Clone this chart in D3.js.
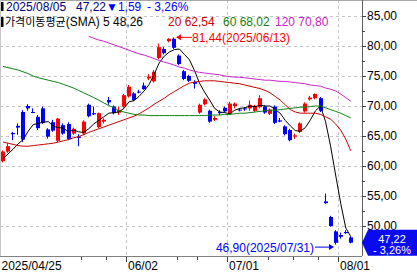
<!DOCTYPE html>
<html>
<head>
<meta charset="utf-8">
<script src="https://cdn.jsdelivr.net/npm/d3@7"></script>
<style>
body { margin: 0; background: #fff; }
svg { display: block; font-family: "Liberation Sans", Arial, sans-serif; font-size: 12px; }
</style>
</head>
<body>
<svg id="chart" width="417" height="274"></svg>
<script>
// trading days on screen (2025, MM/DD)
const dates = ['04/25','04/28','04/29','04/30','05/01','05/02','05/05','05/06','05/07','05/08',
  '05/09','05/12','05/13','05/14','05/15','05/16','05/19','05/20','05/21','05/22',
  '05/23','05/27','05/28','05/29','05/30','06/02','06/03','06/04','06/05','06/06',
  '06/09','06/10','06/11','06/12','06/13','06/16','06/17','06/18','06/20','06/23',
  '06/24','06/25','06/26','06/27','06/30','07/01','07/02','07/03','07/07','07/08',
  '07/09','07/10','07/11','07/14','07/15','07/16','07/17','07/18','07/21','07/22',
  '07/23','07/24','07/25','07/28','07/29','07/30','07/31','08/01','08/04','08/05'];

// OHLC
const opens = [60.8,62.4,65.5,66.7,69.0,70.0,69.0,68.2,69.6,66.1,
  67.3,64.2,66.8,67.0,65.4,64.9,65.4,70.2,68.8,66.5,
  67.4,71.0,69.9,68.9,69.9,71.6,72.1,72.4,73.4,74.6,
  74.1,78.0,79.5,80.8,81.2,78.4,75.8,75.0,74.0,68.9,
  70.3,69.2,67.7,69.0,69.7,68.7,70.0,69.4,69.6,69.6,
  69.2,69.8,69.9,68.7,69.9,67.6,66.6,66.0,64.9,65.7,
  69.1,71.1,71.3,71.3,54.1,51.5,49.1,48.5,49.0,48.1];
const highs = [62.6,63.8,65.7,67.1,69.3,70.3,69.6,68.5,69.9,66.3,
  67.7,68.0,67.1,67.3,66.4,65.3,67.6,70.4,69.9,68.9,
  67.95,71.5,70.1,69.9,72.0,73.5,72.3,72.7,73.9,75.3,
  76.0,80.4,79.8,81.3,81.44,78.6,76.0,75.2,74.3,70.4,
  71.3,69.4,68.3,69.3,69.9,70.7,70.6,69.6,69.8,70.9,
  70.2,71.8,70.1,69.6,70.1,68.0,66.8,66.2,65.4,67.3,
  70.6,71.7,72.1,71.5,55.4,51.7,49.3,48.9,49.3,48.3];
const lows = [60.6,62.2,64.3,65.2,64.0,69.2,68.8,66.0,67.0,64.6,
  65.7,64.0,65.2,64.3,65.2,63.3,65.2,68.1,68.5,66.3,
  67.1,70.2,68.6,68.5,69.7,71.4,70.8,72.1,72.7,74.3,
  73.9,77.8,78.6,80.6,79.5,76.8,74.3,74.0,72.9,68.7,
  70.1,67.2,67.5,68.5,68.9,68.5,69.6,69.1,69.2,69.2,
  69.0,69.6,68.7,68.5,67.0,67.3,65.1,64.1,64.5,65.5,
  68.9,70.9,71.1,69.0,53.7,49.9,46.9,47.9,48.7,47.1];
const closes = [62.4,63.3,65.3,66.4,64.4,69.6,68.9,66.3,67.2,64.9,
  65.9,67.9,65.4,64.5,66.2,64.7,67.4,68.3,68.6,68.8,
  67.7,70.6,68.8,69.3,71.8,73.2,71.0,72.3,72.8,74.9,
  75.7,79.8,78.8,81.2,79.7,77.0,74.5,74.2,73.7,70.2,
  71.1,67.4,68.0,68.8,69.1,70.4,70.4,69.3,69.5,70.2,
  70.0,71.3,68.9,69.4,67.2,67.4,65.3,64.3,65.1,67.1,
  70.4,71.4,72.0,69.2,53.8,50.0,47.2,48.2,48.81,47.22];

// moving averages
const sma5 = [61.2,62.0,62.8,63.7,64.4,65.8,66.9,67.1,67.3,67.4,
  66.6,66.4,66.3,65.7,66.0,65.7,65.6,66.2,67.0,67.6,
  68.2,68.8,68.9,69.0,69.6,70.7,70.9,71.6,72.5,73.6,
  75.3,77.2,78.3,79.0,79.4,79.5,78.6,77.7,75.9,73.8,
  72.3,71.0,69.6,69.0,68.9,68.7,69.3,69.6,69.7,70.0,
  69.9,70.1,70.0,70.0,69.4,68.8,67.6,66.7,65.9,65.8,
  66.4,67.7,69.2,70.0,67.4,63.3,58.5,53.8,49.7,48.26];
const sma20 = [64.0,63.8,63.6,63.4,63.3,63.3,63.4,63.5,63.6,63.7,
  63.8,64.0,64.2,64.4,64.7,64.9,65.2,65.6,65.9,66.2,
  66.5,66.8,67.1,67.4,67.7,68.0,68.3,68.7,69.2,69.7,
  70.3,70.8,71.3,71.9,72.4,72.9,73.4,73.8,74.0,74.1,
  74.2,74.2,74.2,74.1,74.0,73.9,73.8,73.7,73.5,73.3,
  73.1,72.9,72.6,72.2,71.6,71.0,70.2,69.4,69.0,68.8,
  68.8,68.8,68.8,68.6,68.2,67.8,67.0,66.0,64.5,62.54];
const sma60 = [76.6,76.4,76.2,76.0,75.7,75.4,75.0,74.7,74.5,74.3,
  74.1,73.9,73.6,73.3,73.0,72.6,72.2,71.8,71.4,71.0,
  70.5,70.1,69.7,69.2,69.0,68.8,68.6,68.5,68.5,68.4,
  68.4,68.4,68.4,68.4,68.4,68.4,68.4,68.4,68.4,68.4,
  68.4,68.5,68.5,68.5,68.6,68.6,68.7,68.8,68.8,68.9,
  69.0,69.1,69.2,69.3,69.3,69.4,69.5,69.6,69.7,69.8,
  69.8,69.9,70.0,70.0,69.7,69.4,69.1,68.8,68.4,68.02];
const sma120 = [null,null,null,null,null,null,null,null,null,null,
  null,null,null,null,null,null,null,81.6,81.3,81.0,
  80.8,80.5,80.2,79.9,79.6,79.3,79.0,78.7,78.5,78.2,
  77.9,77.6,77.3,77.1,76.8,76.5,76.3,76.0,75.8,75.6,
  75.5,75.4,75.3,75.2,75.0,74.9,74.8,74.8,74.7,74.6,
  74.5,74.4,74.3,74.3,74.2,74.1,74.1,74.0,73.9,73.8,
  73.7,73.5,73.4,73.3,73.0,72.8,72.5,72.0,71.4,70.8];

const maPeriods = ['5','20','60','120'];
const maLast = ['48,26','62,54','68,02','70,80'];

const priceTicks = [50,55,60,65,70,75,80,85];
const minorPriceTicks = [47.5,52.5,57.5,62.5,67.5,72.5,77.5,82.5];
const labelDates = ['04/25','06/02','07/01','08/01'];
const labelTexts = ['2025/04/25','06/02','07/01','08/01'];
const weekTickDates = ['05/19','05/27','06/16','06/23','07/14','07/21','07/28'];

const lastDate = '2025/08/05';
const lastClose = 47.22;
const lastChange = 1.59;
const lastPct = 3.26;
const highDate = '2025/06/13';
const lowDate = '2025/07/31';

const UP = '#ff0000', DOWN = '#0000ff';
const plotRight = 362, plotBottom = 256;

const fmt = v => v.toFixed(2).replace('.', ',');

const svg = d3.select('#chart');
svg.append('rect').attr('width', 417).attr('height', 274).attr('fill', '#fff');

const x = d3.scaleBand().domain(dates).range([0.48, 353.28]).padding(0);
const bw = x.bandwidth();
const cx = d => x(d) + bw / 2;
const y = d3.scaleLinear().domain([45, 85]).range([plotBottom, 16]);

// grid
const grid = svg.append('g').attr('stroke', '#c4c4c4').attr('stroke-dasharray', '3,3');
grid.selectAll('line.h').data(priceTicks).join('line')
  .attr('x1', 0).attr('x2', plotRight)
  .attr('y1', d => Math.round(y(d)) + 0.5).attr('y2', d => Math.round(y(d)) + 0.5);
grid.selectAll('line.v').data(labelDates.slice(1)).join('line')
  .attr('x1', d => Math.round(x(d)) + 0.5).attr('x2', d => Math.round(x(d)) + 0.5)
  .attr('y1', 0).attr('y2', plotBottom);

// frame
svg.append('line').attr('x1', 0).attr('x2', 417).attr('y1', 0.5).attr('y2', 0.5).attr('stroke', '#a8a8a8');
svg.append('line').attr('x1', 0.5).attr('x2', 0.5).attr('y1', 0).attr('y2', plotBottom).attr('stroke', '#c8c8c8');
svg.append('line').attr('x1', 0).attr('x2', plotRight).attr('y1', plotBottom + 0.5).attr('y2', plotBottom + 0.5).attr('stroke', '#808080');
svg.append('line').attr('x1', plotRight + 0.5).attr('x2', plotRight + 0.5).attr('y1', 0).attr('y2', plotBottom).attr('stroke', '#606060');

// candles
const candles = svg.append('g').selectAll('g').data(dates).join('g')
  .attr('fill', (d, i) => closes[i] >= opens[i] ? UP : DOWN)
  .attr('stroke', (d, i) => closes[i] >= opens[i] ? UP : DOWN);
candles.append('line')
  .attr('x1', d => Math.round(cx(d)) - 0.5).attr('x2', d => Math.round(cx(d)) - 0.5)
  .attr('y1', (d, i) => y(highs[i])).attr('y2', (d, i) => y(lows[i]));
candles.append('rect')
  .attr('stroke', 'none')
  .attr('x', d => Math.round(cx(d)) - 2).attr('width', 4)
  .attr('y', (d, i) => y(Math.max(opens[i], closes[i])))
  .attr('height', (d, i) => Math.max(1, Math.abs(y(opens[i]) - y(closes[i]))));

// moving averages
const maSeries = [
  { values: sma5, color: '#000000' },
  { values: sma20, color: '#c80000' },
  { values: sma60, color: '#108010' },
  { values: sma120, color: '#cc22cc' }
];
const line = d3.line()
  .defined(d => d.v != null)
  .x(d => cx(d.date)).y(d => y(d.v));
svg.append('g').attr('fill', 'none').attr('stroke-width', 1)
  .selectAll('path').data(maSeries).join('path')
  .attr('stroke', s => s.color)
  .attr('d', s => line(dates.map((date, i) => ({ date, v: s.values[i] }))));

// high / low markers
const hiIdx = highs.indexOf(d3.max(highs));
const loIdx = lows.indexOf(d3.min(lows));
const hy = y(highs[hiIdx]);
const hx = Math.round(cx(dates[hiIdx])) + 2;
svg.append('line').attr('x1', hx + 1).attr('x2', hx + 16).attr('y1', hy).attr('y2', hy).attr('stroke', UP);
svg.append('path').attr('d', `M${hx},${hy}l5,-3v6z`).attr('fill', UP);
svg.append('text').attr('x', hx + 16).attr('y', hy + 4.5).attr('fill', UP)
  .text(fmt(highs[hiIdx]) + '(' + highDate + ')');

const ly = y(lows[loIdx]) + 2.5;
const lx = Math.round(cx(dates[loIdx])) - 2;
svg.append('line').attr('x1', lx - 19).attr('x2', lx - 2).attr('y1', ly).attr('y2', ly).attr('stroke', DOWN);
svg.append('path').attr('d', `M${lx},${ly}l-5,-3v6z`).attr('fill', DOWN);
svg.append('text').attr('x', lx - 20).attr('y', ly + 5).attr('fill', DOWN).attr('text-anchor', 'end')
  .text(fmt(lows[loIdx]) + '(' + lowDate + ')');

// right price axis
const axisFont = g => g.attr('font-size', 12).attr('font-family', '"Liberation Sans", Arial, sans-serif');
svg.append('g').attr('transform', `translate(${plotRight},0)`)
  .call(d3.axisRight(y).tickValues(priceTicks).tickSize(4).tickPadding(1).tickFormat(fmt))
  .call(axisFont)
  .call(g => g.select('.domain').remove())
  .call(g => g.selectAll('line').attr('stroke', '#404040'))
  .call(g => g.selectAll('text').attr('fill', '#000'));
svg.append('g').attr('transform', `translate(${plotRight},0)`)
  .call(d3.axisRight(y).tickValues(minorPriceTicks).tickSize(3).tickFormat(''))
  .call(g => g.select('.domain').remove())
  .call(g => g.selectAll('line').attr('stroke', '#404040'));

// date axis
const dateAxis = svg.append('g');
dateAxis.selectAll('line.w').data(weekTickDates).join('line')
  .attr('x1', d => Math.round(x(d)) + 0.5).attr('x2', d => Math.round(x(d)) + 0.5)
  .attr('y1', plotBottom + 1).attr('y2', plotBottom + 4).attr('stroke', '#404040');
dateAxis.selectAll('line.m').data(labelDates.slice(1)).join('line')
  .attr('x1', d => Math.round(x(d)) + 0.5).attr('x2', d => Math.round(x(d)) + 0.5)
  .attr('y1', plotBottom + 1).attr('y2', plotBottom + 6).attr('stroke', '#404040');
dateAxis.selectAll('text').data(labelDates).join('text')
  .attr('x', (d, i) => i === 0 ? 1.5 : Math.round(x(d)) + 2)
  .attr('y', 270).attr('fill', '#000')
  .text((d, i) => labelTexts[i]);

// last price badge
const by = y(lastClose);
svg.append('path')
  .attr('d', `M${plotRight},${by}L${plotRight + 6},${by - 13}H417V${by + 13}H${plotRight + 6}Z`)
  .attr('fill', '#0a0af0');
svg.append('text').attr('x', 392).attr('y', by + 0.5).attr('text-anchor', 'middle').attr('fill', '#fff')
  .attr('font-size', 11).text(fmt(lastClose));
svg.append('text').attr('x', 392).attr('y', by + 11.5).attr('text-anchor', 'middle').attr('fill', '#fff')
  .attr('font-size', 11).text('- ' + fmt(lastPct) + '%');

// legend
svg.append('rect').attr('x', 1).attr('y', 2).attr('width', 2.5).attr('height', 9).attr('fill', '#000');
svg.append('rect').attr('x', 1).attr('y', 17).attr('width', 2.5).attr('height', 10).attr('fill', '#000');
const l1 = svg.append('text').attr('y', 11);
l1.append('tspan').attr('x', 6).attr('fill', '#00007a').text(lastDate);
l1.append('tspan').attr('x', 76).attr('fill', '#00007a').text(fmt(lastClose));
l1.append('tspan').attr('x', 106).attr('fill', DOWN).text('▼' + fmt(lastChange));
l1.append('tspan').attr('x', 147).attr('fill', DOWN).text('- ' + fmt(lastPct) + '%');

const l2 = svg.append('text').attr('y', 26);
l2.append('tspan').attr('x', 5).attr('fill', '#000')
  .attr('font-family', '"Noto Sans CJK KR", sans-serif').attr('font-size', 11).text('가격이동평균');
l2.append('tspan').attr('fill', '#000').text('(SMA)');
const legendX = [103, 168, 223, 275];
maSeries.forEach((s, i) => {
  l2.append('tspan').attr('x', legendX[i]).attr('fill', s.color === '#000000' ? '#000' : s.color)
    .text(maPeriods[i] + ' ' + maLast[i]);
});
</script>
</body>
</html>
